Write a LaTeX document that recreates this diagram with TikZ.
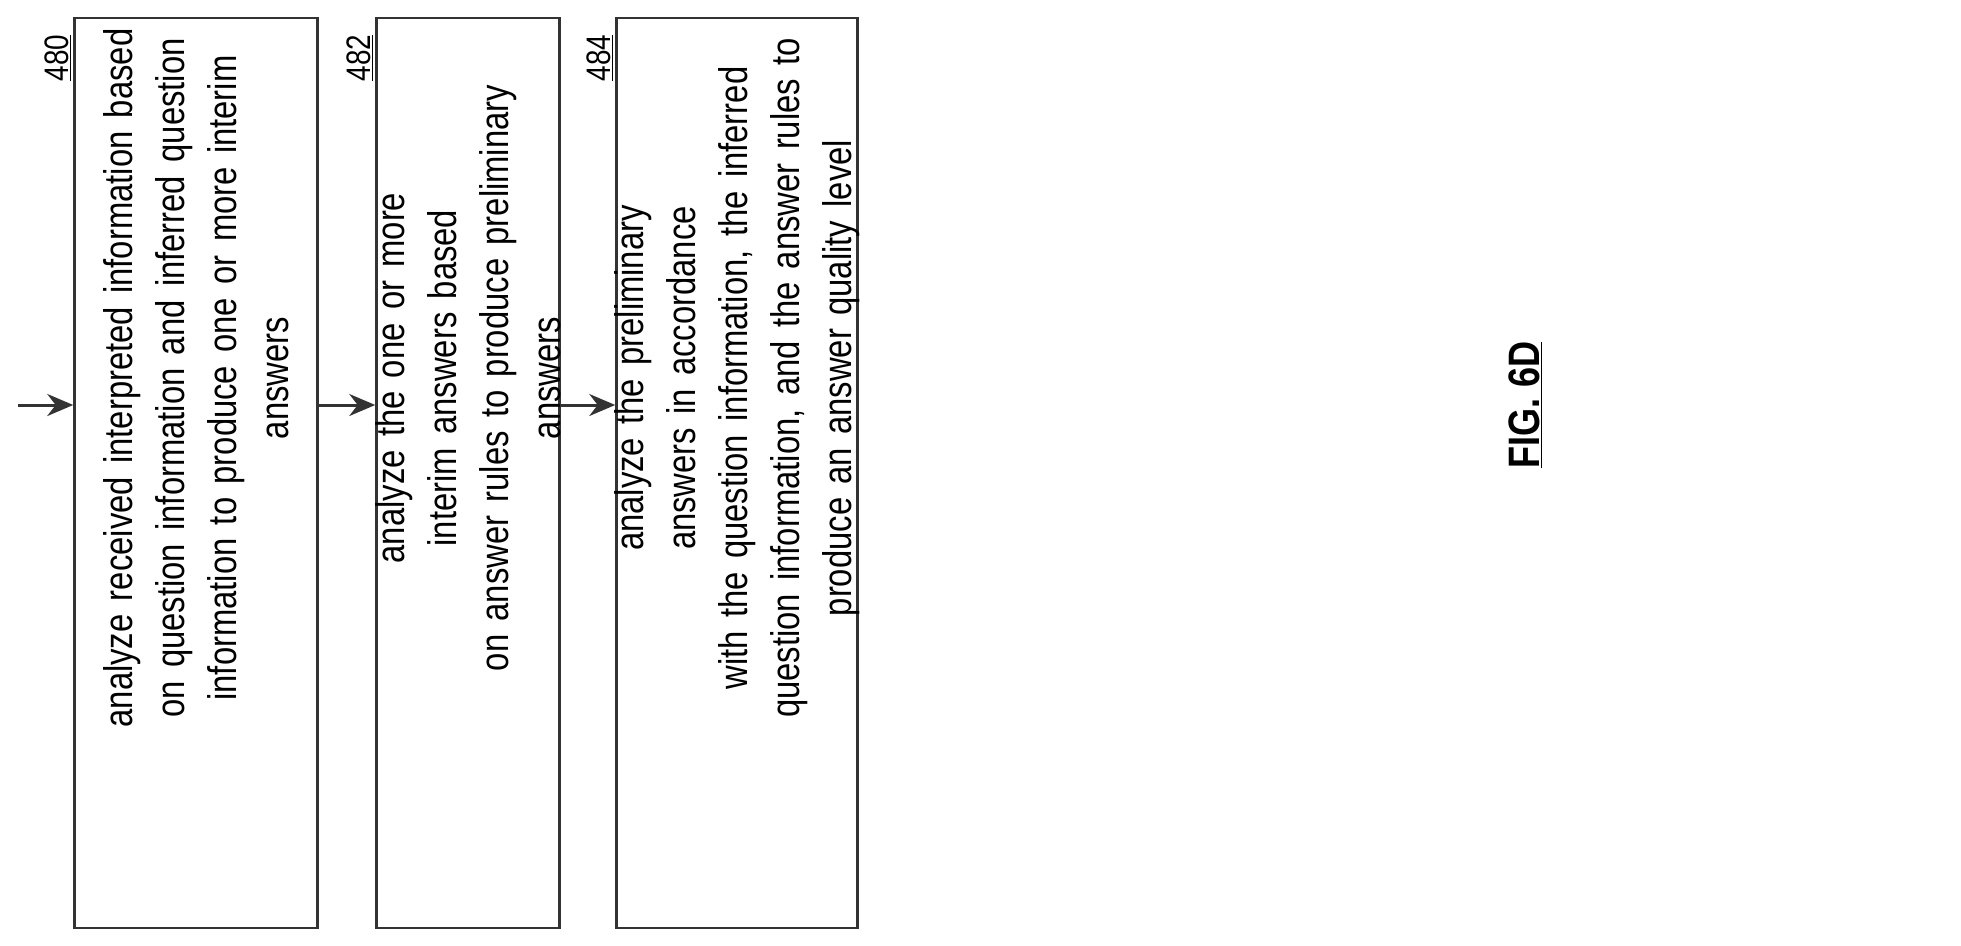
\documentclass[tikz,border=0pt]{standalone}
\usepackage{fontspec}
\setmainfont{Liberation Sans}
\newfontfamily\narrowfont[FakeStretch=0.82]{Liberation Sans}
\usetikzlibrary{calc,arrows.meta}
\begin{document}
\begin{tikzpicture}[x=1pt,y=-1pt,
    stepbox/.style={draw=black!80, line width=2.5pt, rotate=90, inner sep=0pt, minimum width=910pt},
    steptext/.style={rotate=90, align=center, inner sep=0pt, text width=700pt,
       font=\narrowfont\fontsize{40}{52}\selectfont},
    reflabel/.style={rotate=90, font=\narrowfont\fontsize{34}{38}\selectfont},
    flow/.style={-{Stealth[length=26pt,width=22pt]}, line width=3pt, draw=black!80},
  ]
  \useasboundingbox (0,0) rectangle (1961,945);
  \node[stepbox, minimum height=243pt] (analyze) at (196,473) {};
  \node[stepbox, minimum height=183pt] (prelim) at (468,473) {};
  \node[stepbox, minimum height=241pt] (quality) at (737,473) {};
  \node[steptext] (t480) at (196,378)
    {analyze received interpreted information based\\ on question information and inferred question\\ information to produce one or more interim\\ answers};
  \node[steptext] (t482) at (468,378)
    {analyze the one or more interim answers based\\ on answer rules to produce preliminary\\ answers};
  \node[steptext] (t484) at (737,378)
    {analyze the preliminary answers in accordance\\ with the question information, the inferred\\ question information, and the answer rules to\\ produce an answer quality level};
  \node[reflabel] (l480) at (58,58) {\underline{480}};
  \node[reflabel] (l482) at (360,58) {\underline{482}};
  \node[reflabel] (l484) at (600,58) {\underline{484}};
  \coordinate (start) at (18,405);
  \draw[flow] (start) -- ($(analyze.north)+(0,-68)$);
  \draw[flow] ($(analyze.south)+(0,-68)$) -- ($(prelim.north)+(0,-68)$);
  \draw[flow] ($(prelim.south)+(0,-68)$) -- ($(quality.north)+(0,-68)$);
  \node[rotate=90, font=\narrowfont\fontsize{44}{48}\selectfont\bfseries] (fig) at (1525,405) {\underline{FIG. 6D}};
\end{tikzpicture}
\end{document}
